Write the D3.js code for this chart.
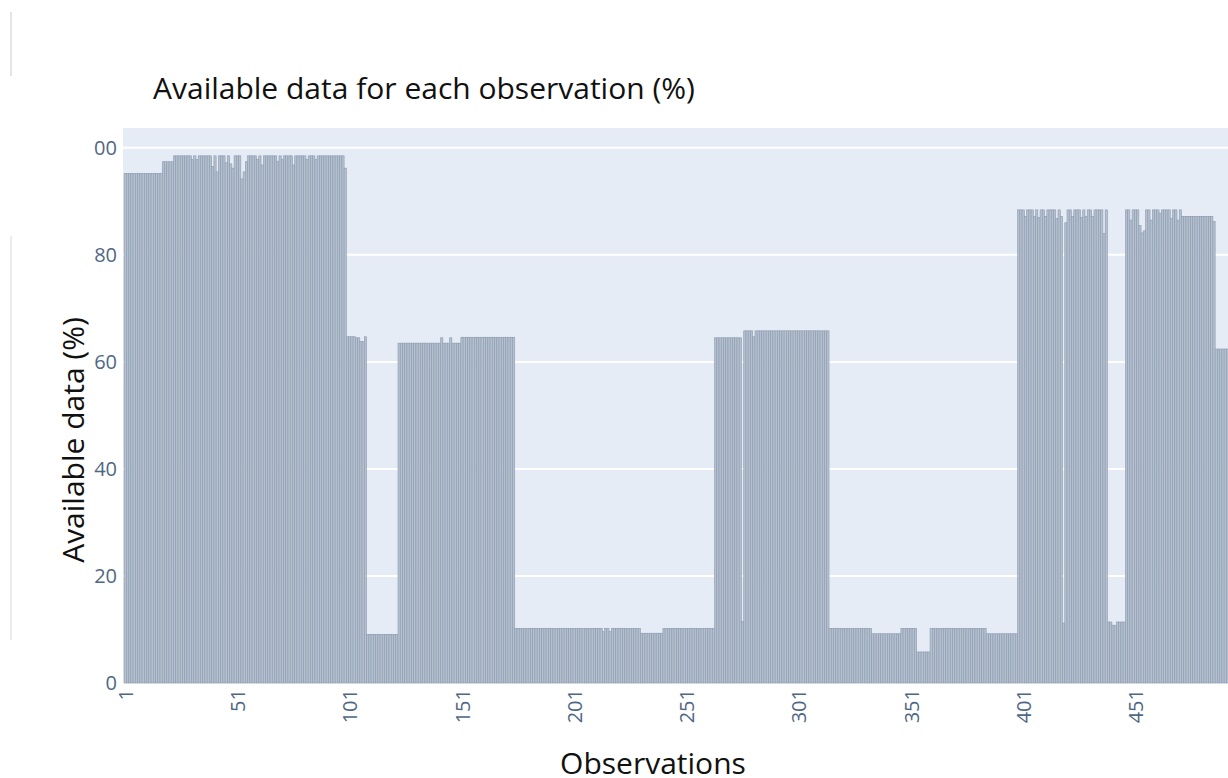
<!DOCTYPE html>
<html>
<head>
<meta charset="utf-8">
<script src="https://cdn.jsdelivr.net/npm/d3@7"></script>
<style>
  html, body { margin: 0; padding: 0; background: #ffffff; }
  svg { display: block; }
</style>
</head>
<body>
<svg id="chart" width="1228" height="778"></svg>
<script>
// Share of available data (%) for each observation, in order from observation 1.
const availability = [
  95.2, 95.2, 95.2, 95.2, 95.2, 95.2, 95.2, 95.2, 95.2, 95.2,
  95.2, 95.2, 95.2, 95.2, 95.2, 95.2, 95.2, 97.4, 97.4, 97.4,
  97.4, 97.4, 98.5, 98.5, 98.5, 98.5, 98.5, 98.5, 98.5, 98.5,
  97.8, 98.5, 97.8, 98.5, 98.5, 98.5, 98.5, 98.5, 98.5, 96.5,
  98.5, 95.5, 98.5, 98.5, 98.5, 97.2, 98.5, 97.0, 96.2, 98.5,
  98.5, 98.5, 94.2, 95.5, 97.4, 98.5, 98.5, 98.5, 98.5, 97.8,
  98.5, 96.8, 98.5, 98.5, 98.5, 98.5, 98.5, 98.5, 97.5, 98.5,
  97.8, 98.5, 98.5, 98.5, 98.5, 96.8, 98.5, 98.5, 98.5, 98.5,
  98.5, 97.8, 98.5, 98.5, 98.5, 97.8, 98.5, 98.5, 98.5, 98.5,
  98.5, 98.5, 98.5, 98.5, 98.5, 98.5, 98.5, 98.5, 96.2, 64.7,
  64.7, 64.7, 64.7, 64.5, 64.5, 63.8, 63.8, 64.7, 9.1, 9.1,
  9.1, 9.1, 9.1, 9.1, 9.1, 9.1, 9.1, 9.1, 9.1, 9.1,
  9.1, 9.1, 63.5, 63.5, 63.5, 63.5, 63.5, 63.5, 63.5, 63.5,
  63.5, 63.5, 63.5, 63.5, 63.5, 63.5, 63.5, 63.5, 63.5, 63.5,
  63.5, 64.5, 63.5, 63.5, 63.5, 64.5, 63.5, 63.5, 63.5, 63.5,
  64.6, 64.6, 64.6, 64.6, 64.6, 64.6, 64.6, 64.6, 64.6, 64.6,
  64.6, 64.6, 64.6, 64.6, 64.6, 64.6, 64.6, 64.6, 64.6, 64.6,
  64.6, 64.6, 64.6, 64.6, 10.2, 10.2, 10.2, 10.2, 10.2, 10.2,
  10.2, 10.2, 10.2, 10.2, 10.2, 10.2, 10.2, 10.2, 10.2, 10.2,
  10.2, 10.2, 10.2, 10.2, 10.2, 10.2, 10.2, 10.2, 10.2, 10.2,
  10.2, 10.2, 10.2, 10.2, 10.2, 10.2, 10.2, 10.2, 10.2, 10.2,
  10.2, 10.2, 10.2, 9.6, 10.2, 10.2, 9.6, 10.2, 10.2, 10.2,
  10.2, 10.2, 10.2, 10.2, 10.2, 10.2, 10.2, 10.2, 10.2, 10.2,
  9.3, 9.3, 9.3, 9.3, 9.3, 9.3, 9.3, 9.3, 9.3, 9.3,
  10.2, 10.2, 10.2, 10.2, 10.2, 10.2, 10.2, 10.2, 10.2, 10.2,
  10.2, 10.2, 10.2, 10.2, 10.2, 10.2, 10.2, 10.2, 10.2, 10.2,
  10.2, 10.2, 10.2, 64.5, 64.5, 64.5, 64.5, 64.5, 64.5, 64.5,
  64.5, 64.5, 64.5, 64.5, 64.5, 11.5, 65.8, 65.8, 65.8, 65.8,
  64.7, 65.8, 65.8, 65.8, 65.8, 65.8, 65.8, 65.8, 65.8, 65.8,
  65.8, 65.8, 65.8, 65.8, 65.8, 65.8, 65.8, 65.8, 65.8, 65.8,
  65.8, 65.8, 65.8, 65.8, 65.8, 65.8, 65.8, 65.8, 65.8, 65.8,
  65.8, 65.8, 65.8, 65.8, 10.2, 10.2, 10.2, 10.2, 10.2, 10.2,
  10.2, 10.2, 10.2, 10.2, 10.2, 10.2, 10.2, 10.2, 10.2, 10.2,
  10.2, 10.2, 10.2, 9.2, 9.2, 9.2, 9.2, 9.2, 9.2, 9.2,
  9.2, 9.2, 9.2, 9.2, 9.2, 9.2, 10.2, 10.2, 10.2, 10.2,
  10.2, 10.2, 10.2, 5.8, 5.8, 5.8, 5.8, 5.8, 5.8, 10.2,
  10.2, 10.2, 10.2, 10.2, 10.2, 10.2, 10.2, 10.2, 10.2, 10.2,
  10.2, 10.2, 10.2, 10.2, 10.2, 10.2, 10.2, 10.2, 10.2, 10.2,
  10.2, 10.2, 10.2, 10.2, 9.2, 9.2, 9.2, 9.2, 9.2, 9.2,
  9.2, 9.2, 9.2, 9.2, 9.2, 9.2, 9.2, 9.2, 88.4, 88.4,
  88.4, 87.2, 88.4, 88.4, 88.4, 87.2, 88.4, 87.0, 88.4, 88.4,
  87.2, 88.4, 88.4, 88.4, 88.4, 86.8, 88.4, 87.2, 11.2, 86.0,
  88.4, 88.4, 87.2, 88.4, 88.4, 88.4, 87.0, 88.4, 87.2, 88.4,
  88.4, 87.2, 88.4, 88.4, 88.4, 88.4, 84.0, 88.4, 11.4, 11.4,
  10.8, 10.8, 11.4, 11.4, 11.4, 11.4, 88.4, 88.4, 86.5, 88.4,
  88.4, 88.4, 85.5, 84.1, 84.5, 88.4, 88.4, 86.5, 88.4, 88.4,
  88.4, 87.8, 88.4, 88.4, 88.4, 88.4, 86.8, 88.4, 88.4, 86.5,
  88.4, 87.2, 87.2, 87.2, 87.2, 87.2, 87.2, 87.2, 87.2, 87.2,
  87.2, 87.2, 87.2, 87.2, 87.2, 86.2, 62.4, 62.4, 62.4, 62.4,
  62.4, 62.4, 62.4, 62.4, 62.4, 62.4, 62.4
];

// Observation numbers (categories) for each bar.
const observations = availability.map((_, i) => i + 1);

// Axis ticks.
const xTickValues = [1, 51, 101, 151, 201, 251, 301, 351, 401, 451];
const yTickValues = [0, 20, 40, 60, 80, 100];

// Texts.
const chartTitle = "Available data for each observation (%)";
const xAxisTitle = "Observations";
const yAxisTitle = "Available data (%)";

const svg = d3.select("#chart");
const W = 1228, H = 778;
const FONT = "'Open Sans', 'Noto Sans', sans-serif";

const plotLeft = 123, plotTop = 128, plotBottom = 683;
const barStep = 2.245;
const xStart = 124.1;

const x = d3.scaleLinear()
  .domain([0.5, observations.length + 0.5])
  .range([xStart, xStart + observations.length * barStep]);

const y = d3.scaleLinear()
  .domain([0, 103.7])
  .range([plotBottom, plotTop]);

// Plot background
svg.append("rect")
  .attr("x", plotLeft).attr("y", plotTop)
  .attr("width", W - plotLeft + 20).attr("height", plotBottom - plotTop)
  .attr("fill", "#e5ecf6");

// Horizontal gridlines
svg.append("g")
  .selectAll("line")
  .data(yTickValues.filter(d => d > 0))
  .join("line")
  .attr("x1", plotLeft).attr("x2", W + 20)
  .attr("y1", d => y(d)).attr("y2", d => y(d))
  .attr("stroke", "#ffffff").attr("stroke-width", 2);

// Bars
svg.append("g")
  .selectAll("rect")
  .data(observations)
  .join("rect")
  .attr("x", d => x(d - 0.5))
  .attr("width", barStep)
  .attr("y", (d, i) => y(availability[i]))
  .attr("height", (d, i) => y(0) - y(availability[i]))
  .attr("fill", "#b4c0ce")
  .attr("stroke", "#8d9bb0")
  .attr("stroke-width", 0.6);

// Y axis
const yAxis = svg.append("g")
  .attr("transform", `translate(${plotLeft - 4},0)`)
  .call(d3.axisLeft(y).tickValues(yTickValues).tickSize(0).tickPadding(2));
yAxis.select(".domain").remove();
yAxis.selectAll("text")
  .attr("font-family", FONT)
  .attr("font-size", 20)
  .attr("fill", "#506784");

// X axis with vertical tick labels
const xAxis = svg.append("g")
  .attr("transform", `translate(0,${plotBottom})`)
  .call(d3.axisBottom(x).tickValues(xTickValues).tickSize(0));
xAxis.select(".domain").remove();
xAxis.selectAll("text")
  .attr("transform", "rotate(-90)")
  .attr("x", -6)
  .attr("y", 0)
  .attr("dy", "0.36em")
  .style("text-anchor", "end")
  .attr("font-family", FONT)
  .attr("font-size", 20)
  .attr("fill", "#506784");

// White paper patch over the top-left corner
svg.append("rect")
  .attr("x", 0).attr("y", 134)
  .attr("width", 94).attr("height", 30)
  .attr("fill", "#ffffff");

// Faint page edge on the left
svg.append("line")
  .attr("x1", 11).attr("x2", 11).attr("y1", 12).attr("y2", 76)
  .attr("stroke", "#d4d4d4").attr("stroke-width", 1.2);
svg.append("line")
  .attr("x1", 11).attr("x2", 11).attr("y1", 236).attr("y2", 640)
  .attr("stroke", "#e0e0e0").attr("stroke-width", 1.2);

// Title
svg.append("text")
  .attr("x", 153).attr("y", 99)
  .attr("font-family", FONT)
  .attr("font-size", 30)
  .attr("fill", "#111111")
  .text(chartTitle);

// Axis titles
svg.append("text")
  .attr("x", 653).attr("y", 774)
  .attr("text-anchor", "middle")
  .attr("font-family", FONT)
  .attr("font-size", 30)
  .attr("fill", "#111111")
  .text(xAxisTitle);

svg.append("text")
  .attr("transform", "translate(84,440) rotate(-90)")
  .attr("text-anchor", "middle")
  .attr("font-family", FONT)
  .attr("font-size", 30)
  .attr("fill", "#111111")
  .text(yAxisTitle);
</script>
</body>
</html>
